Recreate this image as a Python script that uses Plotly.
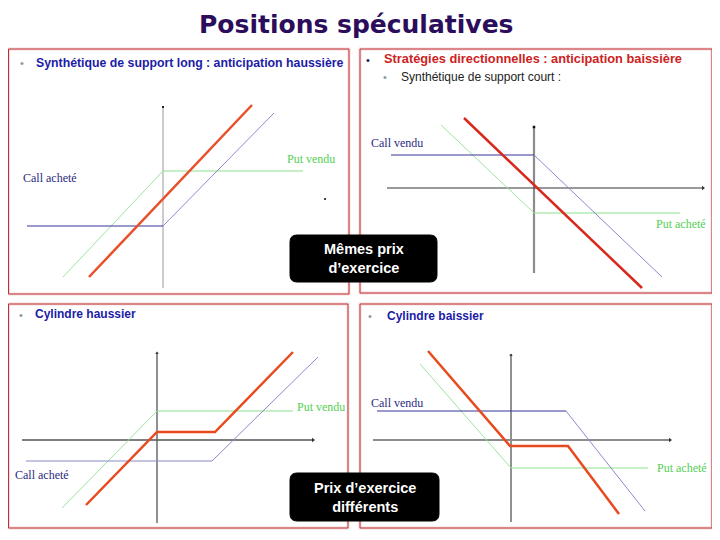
import plotly.graph_objects as go

# The page body has an 8px margin: draw in reference pixels shifted by OFF
OFF = 8
W, H = 720 - OFF, 540 - OFF

# ---------------- data (payoff diagrams, strike at x = 0) ----------------
# Panel 1 : Synthétique de support long
p1_call_x = [-136, 0, 111]
p1_call_y = [-27, -27, 86]
p1_put_x = [-100, 0, 140]
p1_put_y = [-78, 28, 28]
p1_synth_x = [-74, 89]
p1_synth_y = [-78, 94]
p1_vaxis_y = [-89, 92]

# Panel 2 : Synthétique de support court
p2_call_x = [-143, 0, 128]
p2_call_y = [33, 33, -89]
p2_put_x = [-93, 0, 146]
p2_put_y = [63, -25, -25]
p2_synth_x = [-70, 108]
p2_synth_y = [70, -100]
p2_vaxis_y = [-85, 61]
p2_haxis_x = [-147, 169]

# Panel 3 : Cylindre haussier
p3_call_x = [-131, 55, 161]
p3_call_y = [-21, -21, 83]
p3_put_x = [-95, 0, 136]
p3_put_y = [-68, 29, 29]
p3_synth_x = [-71, 0, 58, 136]
p3_synth_y = [-65, 8, 8, 88]
p3_vaxis_y = [-83, 87]
p3_haxis_x = [-135, 156]

# Panel 4 : Cylindre baissier
p4_call_x = [-134, 55, 134]
p4_call_y = [29, 29, -71]
p4_put_x = [-91, 0, 137]
p4_put_y = [76, -28, -28]
p4_synth_x = [-83, -1, 57, 108]
p4_synth_y = [89, -6, -6, -74]
p4_vaxis_y = [-82, 85]
p4_haxis_x = [-138, 159]

title_text = "Positions spéculatives"
headings = [
    "Synthétique de support long : anticipation haussière",
    "Stratégies directionnelles : anticipation baissière",
    "Cylindre haussier",
    "Cylindre baissier",
]
subheading = "Synthétique de support court :"
callouts = ["Mêmes prix<br>d’exercice", "Prix d’exercice<br>différents"]

# ---------------- layout geometry (reference pixels) ----------------
panels = [  # box x0, x1, y0, y1, origin ox, oy
    dict(x0=8, x1=349, y0=49, y1=294, ox=163, oy=199),
    dict(x0=360, x1=712, y0=49, y1=293, ox=534, oy=188),
    dict(x0=8, x1=348, y0=304, y1=528, ox=157, oy=440),
    dict(x0=360, x1=712, y0=304, y1=528, ox=511, oy=440),
]

def px(x):
    return (x - OFF) / W

def py(y):
    return 1 - (y - OFF) / H

fig = go.Figure()
layout_axes = {}
for i, p in enumerate(panels, start=1):
    sfx = "" if i == 1 else str(i)
    layout_axes["xaxis" + sfx] = dict(
        domain=[px(p["x0"]), px(p["x1"])],
        range=[p["x0"] - p["ox"], p["x1"] - p["ox"]],
        visible=False, fixedrange=True, anchor="y" + sfx)
    layout_axes["yaxis" + sfx] = dict(
        domain=[py(p["y1"]), py(p["y0"])],
        range=[p["oy"] - p["y1"], p["oy"] - p["y0"]],
        visible=False, fixedrange=True, anchor="x" + sfx)


def line(xs, ys, i, color, width):
    sfx = "" if i == 1 else str(i)
    fig.add_trace(go.Scatter(x=xs, y=ys, mode="lines", xaxis="x" + sfx, yaxis="y" + sfx,
                             line=dict(color=color, width=width), hoverinfo="skip",
                             showlegend=False))


def tip(x, y, i, symbol, color, size):
    sfx = "" if i == 1 else str(i)
    fig.add_trace(go.Scatter(x=[x], y=[y], mode="markers", xaxis="x" + sfx, yaxis="y" + sfx,
                             marker=dict(symbol=symbol, color=color, size=size),
                             hoverinfo="skip", showlegend=False))


BLUE = "#34349a"
BLUE_L = "#8a8acb"
GREEN = "#8ee08e"
GREEN_L = "#9fe39f"

# Panel 1
line([0, 0], p1_vaxis_y, 1, "#9a9a9a", 1)
tip(0, p1_vaxis_y[1], 1, "square", "#222", 2)
tip(162, 0, 1, "square", "#444", 2)
line(p1_put_x[:2], p1_put_y[:2], 1, GREEN_L, 1)
line(p1_put_x[1:], p1_put_y[1:], 1, GREEN, 1.2)
line(p1_call_x[:2], p1_call_y[:2], 1, BLUE, 1.2)
line(p1_call_x[1:], p1_call_y[1:], 1, BLUE_L, 1)
line(p1_synth_x, p1_synth_y, 1, "#e8502a", 2.5)

# Panel 2
line([0, 0], p2_vaxis_y, 2, "#8c8c8c", 2.2)
tip(0, p2_vaxis_y[1], 2, "square", "#111", 2.5)
line(p2_haxis_x, [0, 0], 2, "#333333", 1)
tip(p2_haxis_x[1], 0, 2, "triangle-right", "#333", 4)
line(p2_put_x[:2], p2_put_y[:2], 2, GREEN_L, 1)
line(p2_put_x[1:], p2_put_y[1:], 2, GREEN, 1.2)
line(p2_call_x[:2], p2_call_y[:2], 2, BLUE, 1.2)
line(p2_call_x[1:], p2_call_y[1:], 2, BLUE_L, 1)
line(p2_synth_x, p2_synth_y, 2, "#d8281c", 2.5)

# Panel 3
line([0, 0], p3_vaxis_y, 3, "#222222", 1)
tip(0, p3_vaxis_y[1], 3, "triangle-up", "#222", 3)
line(p3_haxis_x, [0, 0], 3, "#555555", 1.5)
tip(p3_haxis_x[1], 0, 3, "triangle-right", "#333", 4)
line(p3_put_x[:2], p3_put_y[:2], 3, GREEN_L, 1)
line(p3_put_x[1:], p3_put_y[1:], 3, GREEN, 1.2)
line(p3_call_x[:2], p3_call_y[:2], 3, BLUE_L, 1.2)
line(p3_call_x[1:], p3_call_y[1:], 3, BLUE_L, 1)
line(p3_synth_x, p3_synth_y, 3, "#e84a1e", 2.5)

# Panel 4
line([0, 0], p4_vaxis_y, 4, "#222222", 1)
tip(0, p4_vaxis_y[1], 4, "triangle-up", "#222", 3)
line(p4_haxis_x, [0, 0], 4, "#8c8c8c", 2)
tip(p4_haxis_x[1], 0, 4, "triangle-right", "#333", 4)
line(p4_put_x[:2], p4_put_y[:2], 4, GREEN_L, 1)
line(p4_put_x[1:], p4_put_y[1:], 4, GREEN, 1.2)
line(p4_call_x[:2], p4_call_y[:2], 4, BLUE, 1.2)
line(p4_call_x[1:], p4_call_y[1:], 4, BLUE_L, 1)
line(p4_synth_x, p4_synth_y, 4, "#e84a1e", 2.5)

# ---------------- shapes ----------------
shapes = []
for p in panels:
    bx0 = px(max(p["x0"], OFF + 0.5))
    shapes.append(dict(type="rect", xref="paper", yref="paper",
                       x0=bx0, x1=px(p["x1"]), y0=py(p["y1"]), y1=py(p["y0"]),
                       line=dict(color="#f6dcdc", width=3), layer="below"))
    shapes.append(dict(type="rect", xref="paper", yref="paper",
                       x0=bx0, x1=px(p["x1"]), y0=py(p["y1"]), y1=py(p["y0"]),
                       line=dict(color="#bf2f35", width=1), layer="below"))


def rounded(x0, y0, x1, y1, r):
    rx, ry = r / W, r / H
    X0, X1 = px(x0), px(x1)
    Y0, Y1 = py(y1), py(y0)  # bottom, top in paper
    return (f"M {X0+rx},{Y0} L {X1-rx},{Y0} Q {X1},{Y0} {X1},{Y0+ry} "
            f"L {X1},{Y1-ry} Q {X1},{Y1} {X1-rx},{Y1} L {X0+rx},{Y1} "
            f"Q {X0},{Y1} {X0},{Y1-ry} L {X0},{Y0+ry} Q {X0},{Y0} {X0+rx},{Y0} Z")

boxes = [(290, 235, 437, 282), (290, 473, 439, 521)]
for b in boxes:
    shapes.append(dict(type="path", xref="paper", yref="paper", path=rounded(*b, 7),
                       fillcolor="#000000", line=dict(color="#000000", width=1), layer="above"))

# ---------------- annotations ----------------
ann = []

def text(x, y, t, size, color, family="Liberation Sans, Arial", xanchor="left", bold=False):
    if bold:
        t = "<b>" + t + "</b>"
    ann.append(dict(x=px(x), y=py(y), xref="paper", yref="paper", text=t, showarrow=False,
                    xanchor=xanchor, yanchor="middle",
                    font=dict(size=size, color=color, family=family)))

# title anchored to the top edge of the figure
ann.append(dict(x=px(356), y=1, xref="paper", yref="paper", text="<b>" + title_text + "</b>",
                showarrow=False, xanchor="center", yanchor="top",
                font=dict(size=25, color="#2b0d5c", family="DejaVu Sans, Verdana")))

HEAD_BLUE = "#1c1ca6"
text(34, 63, headings[0], 12.3, HEAD_BLUE, bold=True)
text(382, 59, headings[1], 12.8, "#cc2222", bold=True)
text(399, 77, subheading, 12, "#222222")
text(33, 314, headings[2], 12, HEAD_BLUE, bold=True)
text(385, 316, headings[3], 12, HEAD_BLUE, bold=True)

bul = "#8a9a9a"
text(22, 63, "•", 11, bul, xanchor="center")
text(368, 60, "•", 11, "#1a1a4a", xanchor="center")
text(385, 77, "•", 11, bul, xanchor="center")
text(21, 315, "•", 11, bul, xanchor="center")
text(370, 316, "•", 11, bul, xanchor="center")

SERIF = "Liberation Serif, Times New Roman"
text(50, 178, "Call acheté", 12, "#2c2c80", SERIF, "center")
text(311, 159, "Put vendu", 12, "#55d055", SERIF, "center")
text(397, 143, "Call vendu", 12, "#2c2c80", SERIF, "center")
text(681, 224, "Put acheté", 12, "#55d055", SERIF, "center")
text(42, 475, "Call acheté", 12, "#2c2c80", SERIF, "center")
text(321, 407, "Put vendu", 12, "#55d055", SERIF, "center")
text(397, 403, "Call vendu", 12, "#2c2c80", SERIF, "center")
text(682, 468, "Put acheté", 12, "#55d055", SERIF, "center")

for b, t in zip(boxes, callouts):
    ann.append(dict(x=px((b[0] + b[2]) / 2), y=py((b[1] + b[3]) / 2), xref="paper", yref="paper",
                    text="<b>" + t.replace("<br>", "</b><br><b>") + "</b>", showarrow=False,
                    xanchor="center", yanchor="middle",
                    font=dict(size=14.5, color="#ffffff", family="Liberation Sans, Arial")))

fig.update_layout(width=W, height=H, margin=dict(l=0, r=0, t=0, b=0),
                  paper_bgcolor="white", plot_bgcolor="rgba(0,0,0,0)",
                  shapes=shapes, annotations=ann, **layout_axes)

fig.write_html("out.html")
